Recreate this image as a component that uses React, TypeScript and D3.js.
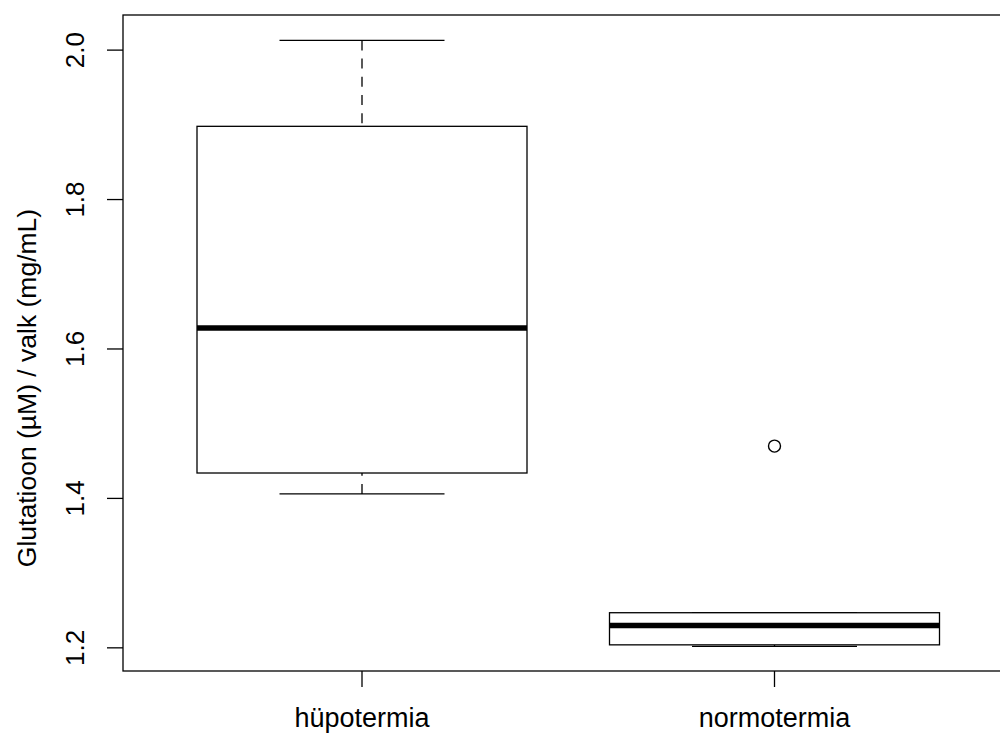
import * as d3 from "d3";

const groups = ["hüpotermia", "normotermia"];
const whiskerLow = [1.406, 1.202];
const lowerHinge = [1.434, 1.204];
const medians = [1.628, 1.23];
const upperHinge = [1.898, 1.247];
const whiskerHigh = [2.013, 1.247];
const outlierGroups = ["normotermia"];
const outlierValues = [1.47];
const yTickValues = [1.2, 1.4, 1.6, 1.8, 2.0];
const yTitle = "Glutatioon (µM) / valk (mg/mL)";

const width = 1000;
const height = 733;
const margin = { top: 15, right: -14, bottom: 62, left: 123 };
const font = "Liberation Sans, Arial, sans-serif";

export default function App() {
  const x = d3
    .scalePoint<string>()
    .domain(groups)
    .range([362, 774.5]);
  const unit = x.step();
  const frameLeft = margin.left;
  const frameRight = width - margin.right;

  const y = d3
    .scaleLinear()
    .domain([1.169, 2.047])
    .range([height - margin.bottom, margin.top]);

  const boxes = groups.map((g, i) => ({
    g,
    cx: x(g)!,
    lo: whiskerLow[i],
    q1: lowerHinge[i],
    med: medians[i],
    q3: upperHinge[i],
    hi: whiskerHigh[i],
  }));
  const outliers = outlierGroups.map((g, i) => ({ g, v: outlierValues[i] }));

  const boxHalf = 0.4 * unit;
  const stapleHalf = 0.2 * unit;
  const bottom = height - margin.bottom;

  return (
    <svg
      width={width}
      height={height}
      style={{ position: "absolute", left: 0, top: 0, background: "white" }}
      fontFamily={font}
    >
      <rect x={0} y={0} width={width} height={height} fill="white" />

      {/* boxes */}
      {boxes.map((b) => (
        <g key={b.g} stroke="#000" fill="none">
          <line
            x1={b.cx}
            x2={b.cx}
            y1={y(b.hi)}
            y2={y(b.q3)}
            strokeWidth={1.3}
            strokeDasharray="10 8.2"
          />
          <line
            x1={b.cx}
            x2={b.cx}
            y1={y(b.lo)}
            y2={y(b.q1)}
            strokeWidth={1.3}
            strokeDasharray="10 8.2"
          />
          <line
            x1={b.cx - stapleHalf}
            x2={b.cx + stapleHalf}
            y1={y(b.hi)}
            y2={y(b.hi)}
            strokeWidth={1.3}
          />
          <line
            x1={b.cx - stapleHalf}
            x2={b.cx + stapleHalf}
            y1={y(b.lo)}
            y2={y(b.lo)}
            strokeWidth={1.3}
          />
          <rect
            x={b.cx - boxHalf}
            y={y(b.q3)}
            width={boxHalf * 2}
            height={y(b.q1) - y(b.q3)}
            fill="white"
            strokeWidth={1.3}
          />
          <line
            x1={b.cx - boxHalf}
            x2={b.cx + boxHalf}
            y1={y(b.med)}
            y2={y(b.med)}
            strokeWidth={5.5}
          />
        </g>
      ))}

      {outliers.map((o, i) => (
        <circle
          key={i}
          cx={x(o.g)!}
          cy={y(o.v)}
          r={6}
          fill="none"
          stroke="#000"
          strokeWidth={1.4}
        />
      ))}

      {/* frame */}
      <rect
        x={frameLeft}
        y={margin.top}
        width={frameRight - frameLeft}
        height={bottom - margin.top}
        fill="none"
        stroke="#000"
        strokeWidth={1.3}
      />

      {/* y axis */}
      {yTickValues.map((t) => (
        <g key={t} transform={`translate(${frameLeft},${y(t)})`}>
          <line x1={-16} x2={0} stroke="#000" strokeWidth={1.3} />
          <text
            transform="translate(-39.5,0) rotate(-90)"
            textAnchor="middle"
            fontSize={26}
          >
            {t.toFixed(1)}
          </text>
        </g>
      ))}

      {/* x axis */}
      {groups.map((g) => (
        <g key={g} transform={`translate(${x(g)},${bottom})`}>
          <line y1={0} y2={16} stroke="#000" strokeWidth={1.3} />
          <text y={56} textAnchor="middle" fontSize={27}>
            {g}
          </text>
        </g>
      ))}

      <text
        transform={`translate(36,388) rotate(-90)`}
        textAnchor="middle"
        fontSize={26.5}
      >
        {yTitle}
      </text>
    </svg>
  );
}
